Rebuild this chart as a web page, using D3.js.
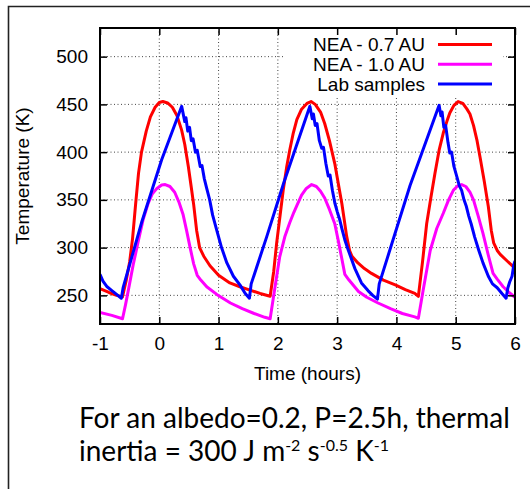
<!DOCTYPE html>
<html>
<head>
<meta charset="utf-8">
<script src="https://cdn.jsdelivr.net/npm/d3@7"></script>
<style>
  body { margin: 0; background: white; }
  svg { display: block; }
</style>
</head>
<body>
<div id="chart"></div>
<script>
// values: [time (hours), temperature (K)]
var nea07 = [
  [-1,257],[-0.85,253],[-0.72,250],[-0.62,248.5],[-0.56,265],[-0.5,285],[-0.45,310],[-0.4,345],[-0.35,378],
  [-0.3,400],[-0.22,422],[-0.15,437],[-0.07,447],[0.0,452],[0.06,453],[0.14,451.5],[0.22,447],[0.3,438],
  [0.377,423],[0.43,408],[0.49,385],[0.54,363],[0.58,345],[0.63,318],[0.68,300],[0.75,291],[0.855,281],
  [1.0,271],[1.19,263],[1.36,259],[1.53,255.5],[1.7,252],[1.87,249],
  [1.93,275],[1.98,305],[2.04,335],[2.09,360],[2.15,385],[2.2,402],[2.26,420],[2.32,434],[2.4,445],
  [2.49,451],[2.56,453],[2.63,450],[2.72,442],[2.79,430],[2.87,412],[2.96,388],[3.02,367],[3.08,346],
  [3.16,312],[3.21,297],[3.25,291],[3.35,284],[3.46,278],[3.58,273],[3.78,266],[3.98,261],[4.15,256],
  [4.31,252],[4.37,249],
  [4.44,285],[4.51,325],[4.58,352],[4.65,378],[4.72,402],[4.79,420],[4.85,432],[4.9,441],[4.97,449],
  [5.04,453],[5.12,451],[5.19,445],[5.24,440],[5.3,428],[5.36,412],[5.41,395],[5.48,370],[5.55,343],
  [5.6,318],[5.64,305],[5.7,297],[5.75,293],[5.85,287],[5.97,280],[6.0,279]
]

var nea10 = [
  [-1,232],[-0.8,229],[-0.62,225.5],[-0.57,240],[-0.52,256],[-0.44,282],[-0.35,308],[-0.27,330],[-0.19,346],
  [-0.12,356],[-0.04,362],[0.04,365.5],[0.1,366],[0.18,364],[0.26,358],[0.33,348],[0.4,335],[0.46,318],
  [0.52,300],[0.58,283],[0.64,271],[0.7,266],[0.8,259],[0.97,251],[1.2,242],[1.4,236],[1.6,231],
  [1.78,227],[1.87,225.5],
  [1.95,258],[2.03,290],[2.12,312],[2.2,326],[2.27,337],[2.32,344],[2.4,355],[2.48,362],[2.57,366],
  [2.65,364],[2.72,359],[2.79,352],[2.87,340],[2.96,325],[3.02,307],[3.08,288],[3.13,272],[3.2,266],
  [3.36,254],[3.5,248],[3.69,242],[3.9,236],[4.1,231],[4.31,227.5],[4.37,226],
  [4.45,255],[4.57,297],[4.68,320],[4.79,336],[4.88,350],[4.96,360],[5.03,364.5],[5.1,366],[5.17,364],
  [5.24,358],[5.3,350],[5.38,333],[5.46,315],[5.55,292],[5.63,273],[5.7,267],[5.8,259],[5.9,253],[6.0,248]
]

var lab = [
  [-1,272],[-0.95,265],[-0.88,259],[-0.8,255],[-0.72,251],[-0.64,247],
  [-0.61,258],[-0.3,326],[0.04,392],[0.378,448],
  [0.41,438],[0.43,432],[0.45,436],[0.48,422],[0.51,426],[0.54,412],[0.57,414],[0.61,400],[0.64,402],
  [0.69,385],[0.72,386],[0.76,372],[0.8,362],[0.85,350],[0.9,334],[0.97,318],[1.05,300],[1.14,284],
  [1.25,270],[1.36,261],[1.45,252],[1.52,247],
  [1.55,262],[1.81,311],[2.1,368],[2.54,448],
  [2.58,435],[2.6,440],[2.63,428],[2.66,430],[2.7,412],[2.74,404],[2.77,405],[2.81,388],[2.85,375],
  [2.88,376],[2.92,360],[2.96,347],[3.0,338],[3.04,330],[3.08,320],[3.13,308],[3.19,297],[3.3,278],
  [3.41,263],[3.52,255],[3.6,250],[3.68,246],
  [3.71,262],[4.23,365],[4.72,449],
  [4.75,438],[4.77,442],[4.8,426],[4.83,428],[4.87,410],[4.9,399],[4.93,400],[4.97,385],[5.02,374],
  [5.06,365],[5.1,360],[5.14,350],[5.18,343],[5.22,333],[5.26,325],[5.32,311],[5.39,297],[5.46,284],
  [5.55,270],[5.62,262],[5.7,258],[5.78,252],[5.85,247],[5.88,258],[5.91,264],[5.95,270],[5.98,282],[6.0,286]
]

var xTicks = [-1, 0, 1, 2, 3, 4, 5, 6]
var yTicks = [250, 300, 350, 400, 450, 500]
var seriesNames = ["NEA - 0.7 AU", "NEA - 1.0 AU", "Lab samples"]
var seriesColors = ["#ff0000", "#ff00ff", "#0000ff"]

var W = 530, H = 489
var MARGIN = {TOP: 28, RIGHT: 15, BOTTOM: 165, LEFT: 100}
var WIDTH = W - MARGIN.LEFT - MARGIN.RIGHT,
  HEIGHT = H - MARGIN.TOP - MARGIN.BOTTOM
var FONT = "'Liberation Sans', Arial, Helvetica, sans-serif"

var svg = d3.select("#chart").append("svg")
  .attr("width", W)
  .attr("height", H)

// outer frame (only top and left edges show)
svg.append("path")
  .attr("d", "M8.5,489V6.5H530")
  .attr("fill", "none")
  .attr("stroke", "#222")
  .attr("stroke-width", 1.6)

var g = svg.append("g")
  .attr("transform", "translate(" + MARGIN.LEFT + "," + MARGIN.TOP + ")")

var x = d3.scaleLinear().domain([-1, 6]).range([0, WIDTH])
var y = d3.scaleLinear().domain([220, 530]).range([HEIGHT, 0])

// dotted grid
g.append("g").selectAll("line").data(xTicks.slice(1, -1)).enter()
  .append("line")
  .attr("x1", function(d){ return x(d) }).attr("x2", function(d){ return x(d) })
  .attr("y1", 0).attr("y2", HEIGHT)
  .attr("stroke", "#444").attr("stroke-width", 1).attr("stroke-dasharray", "1,2.5")
g.append("g").selectAll("line").data(yTicks).enter()
  .append("line")
  .attr("x1", 0).attr("x2", WIDTH)
  .attr("y1", function(d){ return y(d) }).attr("y2", function(d){ return y(d) })
  .attr("stroke", "#444").attr("stroke-width", 1).attr("stroke-dasharray", "1,2.5")

// legend box hides the grid behind it
g.append("rect")
  .attr("x", 185).attr("y", 1)
  .attr("width", 218).attr("height", 67)
  .attr("fill", "white")

g.append("clipPath").attr("id", "plotclip")
  .append("rect").attr("width", WIDTH).attr("height", HEIGHT)

var line = d3.line()
  .x(function(d){ return x(d[0]) })
  .y(function(d){ return y(d[1]) })

var allSeries = [nea07, nea10, lab]
g.append("g").attr("clip-path", "url(#plotclip)")
  .selectAll("path").data(allSeries).enter()
  .append("path")
  .attr("d", line)
  .attr("fill", "none")
  .attr("stroke", function(d, i){ return seriesColors[i] })
  .attr("stroke-width", 3)
  .attr("stroke-linejoin", "round")

// axes, gnuplot style: ticks inside, mirrored
var fmt = function(d){ return String(d) }
var xAxis = d3.axisBottom(x).tickValues(xTicks).tickSize(-7).tickPadding(13).tickFormat(fmt)
var yAxis = d3.axisLeft(y).tickValues(yTicks).tickSize(-7).tickPadding(12).tickFormat(fmt)

g.append("g").attr("transform", "translate(0," + HEIGHT + ")").call(xAxis)
g.append("g").call(yAxis)
g.append("g").call(d3.axisTop(x).tickValues(xTicks).tickSize(-7).tickFormat(""))
g.append("g").attr("transform", "translate(" + WIDTH + ",0)")
  .call(d3.axisRight(y).tickValues(yTicks).tickSize(-7).tickFormat(""))

g.selectAll(".domain").remove()
g.selectAll(".tick line").attr("stroke", "#000").attr("stroke-width", 1.5)
g.selectAll(".tick text")
  .attr("fill", "#000")
  .style("font-family", FONT)
  .style("font-size", "19px")

g.append("rect")
  .attr("width", WIDTH).attr("height", HEIGHT)
  .attr("fill", "none").attr("stroke", "#000").attr("stroke-width", 2)

// legend
var legend = g.append("g").selectAll("g").data(seriesNames).enter()
  .append("g")
  .attr("transform", function(d, i){ return "translate(0," + (16.5 + i * 19.8) + ")" })
legend.append("text")
  .attr("x", 325).attr("y", 0).attr("dy", "0.35em")
  .attr("text-anchor", "end")
  .style("font-family", FONT)
  .style("font-size", "19px")
  .text(function(d){ return d })
legend.append("line")
  .attr("x1", 338).attr("x2", 392)
  .attr("stroke", function(d, i){ return seriesColors[i] })
  .attr("stroke-width", 3)

// axis titles
svg.append("text")
  .attr("x", MARGIN.LEFT + WIDTH / 2).attr("y", 380)
  .attr("text-anchor", "middle")
  .style("font-family", FONT)
  .style("font-size", "19px")
  .text("Time (hours)")
svg.append("text")
  .attr("transform", "translate(29," + (MARGIN.TOP + HEIGHT / 2) + ") rotate(-90)")
  .attr("text-anchor", "middle")
  .style("font-family", FONT)
  .style("font-size", "19px")
  .text("Temperature (K)")

// caption
var caption = svg.append("text")
  .style("font-family", "Lato, 'Open Sans', sans-serif")
  .style("font-size", "28px")
  .attr("fill", "#000")
caption.append("tspan").attr("x", 79).attr("y", 428)
  .text("For an albedo=0.2, P=2.5h, thermal")
caption.append("tspan").attr("x", 79).attr("y", 461)
  .text("inertia = 300 J m")
caption.append("tspan").attr("dy", -10).style("font-size", "16px").text("-2")
caption.append("tspan").attr("dy", 10).text(" s")
caption.append("tspan").attr("dy", -10).style("font-size", "16px").text("-0.5")
caption.append("tspan").attr("dy", 10).text(" K")
caption.append("tspan").attr("dy", -10).style("font-size", "16px").text("-1")
</script>
</body>
</html>
